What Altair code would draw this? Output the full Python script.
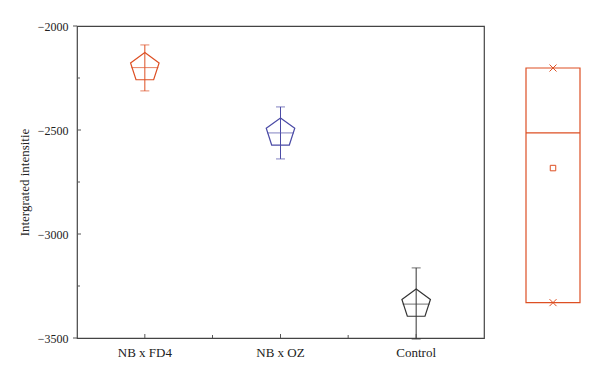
import altair as alt
import pandas as pd

categories = ["NB x FD4", "NB x OZ", "Control"]
means = [-2200, -2514, -3337]
upper = [-2091, -2389, -3163]
lower = [-2312, -2639, -3505]
colors = ["#DD4F23", "#4B4BA6", "#333333"]

y_major = [-2000, -2500, -3000, -3500]
y_inner_major = [-2500, -3000]
y_inner_minor = [-2250, -2750, -3250]
y_outer = [-2000, -3500]
x_minor_at = ["NB x OZ", "Control"]

box_max = [-2202]
box_min = [-3330]
box_median = [-2514]
box_mean = [-2683]
box_color = "#DD4F23"

FONT = "Liberation Serif"

df = pd.DataFrame({"cat": categories, "mean": means, "hi": upper, "lo": lower})
maj_df = pd.DataFrame({"v": y_inner_major})
min_df = pd.DataFrame({"v": y_inner_minor})
out_df = pd.DataFrame({"v": y_outer})
xmin_df = pd.DataFrame({"cat": x_minor_at})

yscale = alt.Scale(domain=[-3500, -2000], nice=False, zero=False)
xscale = alt.Scale(type="band", domain=categories, paddingInner=0, paddingOuter=0)
cscale = alt.Scale(domain=categories, range=colors)

base = alt.Chart(df)
x_enc = alt.X("cat:N", scale=xscale, sort=categories,
              axis=alt.Axis(title=None, labelAngle=0, ticks=False, domain=False,
                            labelPadding=8, labelFont=FONT, labelFontSize=13,
                            labelColor="#222"))
y_enc = alt.Y("mean:Q", scale=yscale,
              axis=alt.Axis(title="Intergrated intensitie", values=y_major, format="d",
                            ticks=False, domain=False, grid=False, labelPadding=9,
                            labelFont=FONT, labelFontSize=12, labelColor="#222",
                            titleFont=FONT, titleFontSize=13, titleFontWeight="normal",
                            titleColor="#222", titlePadding=6))
col = alt.Color("cat:N", scale=cscale, legend=None)
xs = alt.X("cat:N", scale=xscale, sort=categories)

pent_path = "M0,-1L0.951,-0.309L0.588,0.809L-0.588,0.809L-0.951,-0.309Z"

err = base.mark_rule(strokeWidth=1).encode(x=x_enc, y=y_enc, y2="lo:Q", color=col)
err2 = base.mark_rule(strokeWidth=1).encode(x=xs, y=alt.Y("hi:Q", scale=yscale), y2="mean:Q", color=col)
cap_hi = base.mark_tick(orient="horizontal", size=9, thickness=1).encode(
    x=xs, y=alt.Y("hi:Q", scale=yscale), color=col)
cap_lo = base.mark_tick(orient="horizontal", size=9, thickness=1).encode(
    x=xs, y=alt.Y("lo:Q", scale=yscale), color=col)
pent = base.mark_point(shape=pent_path, size=900, filled=False, strokeWidth=1.2, opacity=1).encode(
    x=xs, y=alt.Y("mean:Q", scale=yscale), stroke=col)
hline = base.mark_tick(orient="horizontal", size=27, thickness=1).encode(
    x=xs, y=alt.Y("mean:Q", scale=yscale), color=col)

yticks_maj = alt.Chart(maj_df).mark_rule(color="#555", strokeWidth=1).encode(
    y=alt.Y("v:Q", scale=yscale), x=alt.value(0), x2=alt.value(4))
yticks_min = alt.Chart(min_df).mark_rule(color="#555", strokeWidth=1).encode(
    y=alt.Y("v:Q", scale=yscale), x=alt.value(0), x2=alt.value(3))
yticks_out = alt.Chart(out_df).mark_rule(color="#555", strokeWidth=1).encode(
    y=alt.Y("v:Q", scale=yscale), x=alt.value(-4), x2=alt.value(0))
xticks = base.mark_rule(color="#555", strokeWidth=1).encode(
    x=xs, y=alt.value(312), y2=alt.value(308))
xticks_min = alt.Chart(xmin_df).mark_rule(color="#555", strokeWidth=1, xOffset=-68).encode(
    x=xs, y=alt.value(312), y2=alt.value(309))

main = alt.layer(err, err2, cap_hi, cap_lo, pent, hline, yticks_maj, yticks_min, yticks_out,
                 xticks, xticks_min).properties(
    width=407, height=312,
    view=alt.ViewBackground(stroke="#444", strokeWidth=1.2))

box_df = pd.DataFrame({"max": box_max, "min": box_min, "median": box_median, "mean": box_mean})
bbase = alt.Chart(box_df)
rect = bbase.mark_rect(fill="white", fillOpacity=0, stroke=box_color, strokeWidth=1.2).encode(
    x=alt.value(0), x2=alt.value(54),
    y=alt.Y("max:Q", scale=yscale, axis=None), y2="min:Q")
med = bbase.mark_rule(color=box_color, strokeWidth=1.2).encode(
    x=alt.value(0), x2=alt.value(54), y=alt.Y("median:Q", scale=yscale, axis=None))
xshape = "M-1,-1L1,1M1,-1L-1,1"
mx_hi = bbase.mark_point(shape=xshape, size=49, filled=False, color=box_color, strokeWidth=1, opacity=1).encode(
    x=alt.value(27), y=alt.Y("max:Q", scale=yscale, axis=None))
mx_lo = bbase.mark_point(shape=xshape, size=49, filled=False, color=box_color, strokeWidth=1, opacity=1).encode(
    x=alt.value(27), y=alt.Y("min:Q", scale=yscale, axis=None))
msq = bbase.mark_point(shape="square", size=30, filled=False, color=box_color, strokeWidth=1, opacity=1).encode(
    x=alt.value(27), y=alt.Y("mean:Q", scale=yscale, axis=None))

side = alt.layer(rect, med, mx_hi, mx_lo, msq).properties(
    width=54, height=312, view=alt.ViewBackground(stroke="transparent"))

chart = alt.hconcat(main, side, spacing=39).resolve_scale(y="shared").properties(
    padding={"left": 9, "top": 11, "right": 5, "bottom": 5}
).configure(background="white")

chart.save("out.html", embed_options={"renderer": "svg", "actions": False})
